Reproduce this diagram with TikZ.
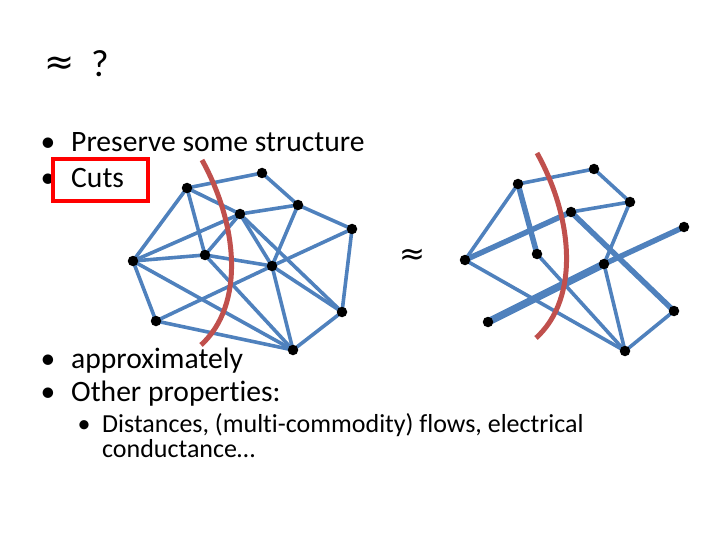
\documentclass[tikz,border=0pt]{standalone}
\usepackage{fontspec}
\setmainfont{Carlito}[Ligatures={NoCommon}]
\newfontfamily\symfont{DejaVu Sans}
\definecolor{edgeblue}{HTML}{4F81BD}
\definecolor{cutred}{HTML}{C0504D}
\begin{document}
\begin{tikzpicture}[x=1pt,y=-1pt,
    dot/.style={circle,fill=black,inner sep=0pt,minimum size=10.5pt},
    edge/.style={draw=edgeblue,line width=3.6pt},
    heavy/.style={draw=edgeblue,line width=5.5pt},
    heavier/.style={draw=edgeblue,line width=7.5pt},
    cut/.style={draw=cutred,line width=5pt},
    txt/.style={anchor=base west,inner sep=0pt,font=\fontsize{29.6}{34}\selectfont},
    subtxt/.style={anchor=base west,inner sep=0pt,font=\fontsize{26}{30}\selectfont}]
  \useasboundingbox (0,0) rectangle (720,540);
  % heading
  \node[inner sep=0pt,font=\symfont\fontsize{36}{40}\selectfont] (sim) at (60,66) {≈};
  \node[anchor=base west,inner sep=0pt,font=\fontsize{38}{42}\selectfont] (qmark) at (91,77) {?};
  \node[inner sep=0pt,font=\symfont\fontsize{31}{34}\selectfont] (mid) at (412,257) {≈};
  % bullets
  \foreach \n/\y/\t in {pres/152/Preserve some structure, cuts/188/Cuts,
                        approx/368/approximately, other/401/Other properties:}{
    \node[txt,anchor=base] (\n-b) at (48,\y) {•};
    \node[txt] (\n) at (71,\y) {\t};
  }
  \node[subtxt,anchor=base] (dist-b) at (84,432) {•};
  \node[subtxt] (dist) at (102,432) {Distances, (multi-commodity) flows, electrical};
  \node[subtxt] (cond) at (102,457) {conductance…};
  \draw[red,line width=4pt] (53,159) rectangle (148,201);
  % graph
  \foreach \n/\x/\y in {l1/187/188, l2/262/173, l3/298/205, l4/240/214, l5/352/229, l6/133/261,
                        l7/205/255, l8/272/266, l9/342/312, l10/156/321, l11/293/350}{
    \coordinate (\n) at (\x,\y);
  }
  \foreach \u/\v in {l1/l2, l2/l3, l3/l5, l3/l4, l3/l8, l1/l4, l1/l7, l1/l6, l4/l6, l4/l7,
                     l4/l8, l4/l9, l6/l7, l7/l8, l6/l11, l6/l10, l10/l8, l10/l11, l7/l11,
                     l8/l5, l8/l9, l8/l11, l5/l9, l9/l11}{
    \draw[edge] (\u)--(\v);
  }
  % sparsifier
  \foreach \n/\x/\y in {r1/518/184, r2/594/169, r3/630/202, r4/571/212, r5/684/227, r6/465/260,
                        r7/537/254, r8/604/264, r9/674/311, r10/488/322, r11/625/351}{
    \coordinate (\n) at (\x,\y);
  }
  \foreach \u/\v in {r1/r2, r2/r3, r3/r4, r3/r8, r1/r6, r6/r11, r7/r11, r9/r11, r8/r11}{
    \draw[edge] (\u)--(\v);
  }
  \foreach \u/\v in {r1/r7, r6/r4, r4/r9, r8/r5}{
    \draw[heavy] (\u)--(\v);
  }
  \draw[heavier] (r10)--(r8);
  % cuts
  \draw[cut] (202,160) .. controls (238,225) and (245,305) .. (201,345);
  \draw[cut] (537,153) .. controls (573,218) and (580,298) .. (536,338);
  \foreach \n in {1,...,11}{
    \node[dot] (dl\n) at (l\n) {};
    \node[dot] (dr\n) at (r\n) {};
  }
\end{tikzpicture}
\end{document}
